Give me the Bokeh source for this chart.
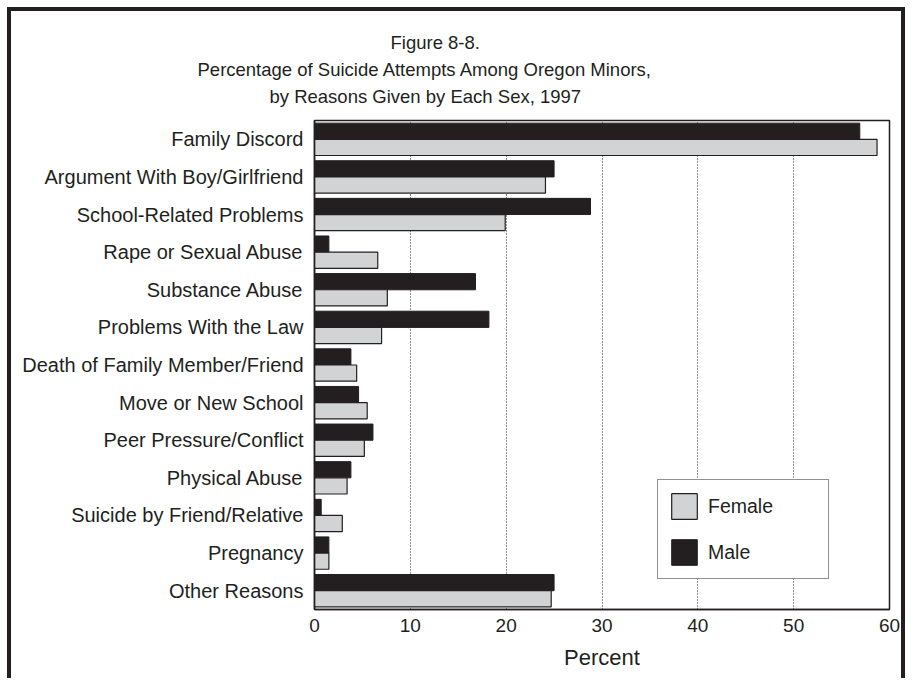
from bokeh.plotting import figure
from bokeh.models import FactorRange, Range1d, Title, Legend, LegendItem, ColumnDataSource, FixedTicker
from bokeh.transform import dodge
from bokeh.embed import file_html
from bokeh.resources import INLINE

categories = [
    "Family Discord",
    "Argument With Boy/Girlfriend",
    "School-Related Problems",
    "Rape or Sexual Abuse",
    "Substance Abuse",
    "Problems With the Law",
    "Death of Family Member/Friend",
    "Move or New School",
    "Peer Pressure/Conflict",
    "Physical Abuse",
    "Suicide by Friend/Relative",
    "Pregnancy",
    "Other Reasons",
]
male = [56.9, 25.0, 28.8, 1.5, 16.8, 18.2, 3.8, 4.6, 6.1, 3.8, 0.7, 1.5, 25.0]
female = [58.7, 24.1, 19.9, 6.6, 7.6, 7.0, 4.4, 5.5, 5.2, 3.4, 2.9, 1.5, 24.7]
x_ticks = [0, 10, 20, 30, 40, 50, 60]
title_lines = [
    "Figure 8-8.",
    "Percentage of Suicide Attempts Among Oregon Minors,",
    "by Reasons Given by Each Sex, 1997",
]

INK = "#231f20"
GRAY = "#d1d3d4"
FONT = "Liberation Sans"

src = ColumnDataSource(dict(cat=categories, male=male, female=female))

p = figure(
    width=898, height=671,
    y_range=FactorRange(factors=list(reversed(categories))),
    x_range=Range1d(0, 60),
    output_backend="svg", toolbar_location=None,
    min_border_left=303, min_border_right=20, min_border_top=109, min_border_bottom=73,
)
p.styles = {"border-top": f"4px solid {INK}", "border-left": f"4px solid {INK}",
            "border-right": f"4px solid {INK}", "margin-left": "7px", "margin-top": "7px"}

r_m = p.hbar(y=dodge("cat", 0.215, range=p.y_range), right="male", left=0, height=0.43,
             source=src, fill_color=INK, line_color=INK, line_width=1)
r_f = p.hbar(y=dodge("cat", -0.215, range=p.y_range), right="female", left=0, height=0.43,
             source=src, fill_color=GRAY, line_color=INK, line_width=1.2)

p.outline_line_color = INK
p.outline_line_width = 1.5
p.ygrid.grid_line_color = None
p.xgrid.grid_line_color = INK
p.xgrid.grid_line_dash = "1 2"
p.xgrid.grid_line_width = 1

p.xaxis.ticker = FixedTicker(ticks=x_ticks)
p.xaxis.axis_label = "Percent"
p.xaxis.axis_label_text_font = FONT
p.xaxis.axis_label_text_font_style = "normal"
p.xaxis.axis_label_text_font_size = "22px"
p.xaxis.axis_label_text_color = INK
p.xaxis.axis_label_standoff = 10
p.xaxis.major_label_text_font = FONT
p.xaxis.major_label_text_font_size = "19px"
p.xaxis.major_label_text_color = INK
p.xaxis.major_label_standoff = 9
p.xaxis.major_tick_in = 0
p.xaxis.major_tick_out = 0
p.xaxis.minor_tick_line_color = None
p.xaxis.axis_line_color = INK
p.xaxis.axis_line_width = 1.5

p.yaxis.major_label_text_font = FONT
p.yaxis.major_label_text_font_size = "20px"
p.yaxis.major_label_text_color = INK
p.yaxis.major_label_standoff = 11
p.yaxis.major_tick_in = 0
p.yaxis.major_tick_out = 0
p.yaxis.major_tick_line_color = None
p.yaxis.axis_line_color = INK
p.yaxis.axis_line_width = 1.5

# spacer between the frame and the title block
p.add_layout(Title(text=" ", text_font_size="1px", standoff=9), "above")
# title lines, stacked upward from the frame (last added = topmost)
title_offset = [76, -117, -45]
for txt, off in reversed(list(zip(title_lines, title_offset))):
    p.add_layout(Title(text=txt, align="left", offset=off, standoff=4,
                       text_font=FONT, text_font_size="18.5px", text_font_style="normal",
                       text_color=INK), "above")

legend = Legend(items=[LegendItem(label="Female", renderers=[r_f]),
                       LegendItem(label="Male", renderers=[r_m])],
                location=(343, 30), orientation="vertical",
                glyph_width=32, glyph_height=32, spacing=14, padding=10,
                label_standoff=8, label_width=110,
                label_text_font=FONT, label_text_font_size="19.5px", label_text_color=INK,
                border_line_color=INK, border_line_width=1.2, background_fill_alpha=1)
p.add_layout(legend, "center")

open("out.html", "w").write(file_html(p, INLINE))
